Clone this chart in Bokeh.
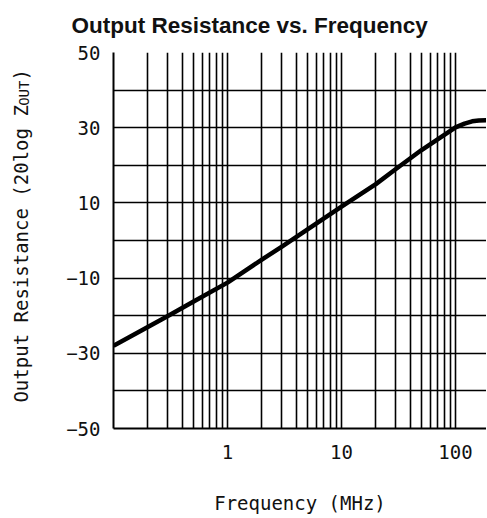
import math
from bokeh.plotting import figure
from bokeh.layouts import row
from bokeh.models import FixedTicker, Range1d, BasicTickFormatter
from bokeh.core.properties import value
from bokeh.embed import file_html
from bokeh.resources import INLINE

# data
freq_mhz = [0.1, 0.2, 0.3, 0.5, 1, 2, 3, 5, 10, 20, 30, 50, 100, 120, 140, 160, 200]
zout_db = [-28, -23, -20.1, -16.3, -11.2, -5.1, -1.6, 2.9, 9, 15.0, 19.0, 24.0, 30.1, 31.1, 31.7, 31.9, 32]

x_major = [1, 10, 100]
x_minor = [0.2, 0.3, 0.4, 0.5, 0.6, 0.7, 0.8, 0.9,
           2, 3, 4, 5, 6, 7, 8, 9,
           20, 30, 40, 50, 60, 70, 80, 90]
y_major = [-50, -30, -10, 10, 30, 50]
y_minor = [-40, -20, 0, 20, 40]

X_START, X_END = 0.1, 187
Y_START, Y_END = -50, 50
FRAME_W, FRAME_H = 373, 376
BORDER_TOP, BORDER_BOTTOM = 51, 88
LABEL_STRIP_W = 42
FIG_H = BORDER_TOP + FRAME_H + BORDER_BOTTOM
TICK_FONT = "DejaVu Sans Mono"
INK = "#111111"

p = figure(
    x_axis_type="log",
    x_range=Range1d(X_START, X_END),
    y_range=Range1d(Y_START, Y_END),
    frame_width=FRAME_W, frame_height=FRAME_H,
    min_border_left=113 - LABEL_STRIP_W, min_border_top=BORDER_TOP,
    min_border_right=0, min_border_bottom=BORDER_BOTTOM,
    output_backend="svg", toolbar_location=None,
)
p.background_fill_color = "white"
p.border_fill_color = "white"
p.outline_line_color = None

p.title.text = "Output Resistance vs. Frequency"
p.title.text_font = "Liberation Sans"
p.title.text_font_style = "bold"
p.title.text_font_size = "22.5px"
p.title.text_color = INK
p.title.align = "left"
p.title.vertical_align = "top"
p.title.offset = -42
p.title.standoff = 25

p.xaxis.ticker = FixedTicker(ticks=x_major, minor_ticks=x_minor)
p.xaxis.formatter = BasicTickFormatter()
p.yaxis.ticker = FixedTicker(ticks=y_major, minor_ticks=y_minor)

for ax in (p.xaxis[0], p.yaxis[0]):
    ax.axis_line_color = "black"
    ax.axis_line_width = 2
    ax.major_tick_line_color = None
    ax.minor_tick_line_color = None
    ax.major_label_text_font = TICK_FONT
    ax.major_label_text_font_size = "19px"
    ax.major_label_text_color = INK

p.xaxis.major_label_standoff = 10
p.yaxis.major_label_standoff = 7

p.xaxis.axis_label = "Frequency (MHz)"
p.xaxis.axis_label_text_font = TICK_FONT
p.xaxis.axis_label_text_font_style = "normal"
p.xaxis.axis_label_text_font_size = "19px"
p.xaxis.axis_label_text_color = INK
p.xaxis.axis_label_standoff = 30

for g in (p.xgrid[0], p.ygrid[0]):
    g.grid_line_color = "black"
    g.grid_line_width = 1.6
    g.grid_line_alpha = 1
    g.minor_grid_line_color = "black"
    g.minor_grid_line_width = 1.6

p.line(freq_mhz, zout_db, line_color="black", line_width=4.5, line_join="round")

# narrow strip on the left carrying the rotated y-axis title (with subscript "OUT").
# Its frame is aligned with the main plot's frame, so its ranges are pixels
# measured from the bottom-left corner of that frame.
s = figure(
    title=None,
    width=LABEL_STRIP_W, height=FIG_H,
    x_range=Range1d(0, LABEL_STRIP_W), y_range=Range1d(0, FRAME_H),
    min_border=0, min_border_left=0, min_border_right=0,
    min_border_top=BORDER_TOP, min_border_bottom=BORDER_BOTTOM,
    x_axis_location=None, y_axis_location=None,
    output_backend="svg", toolbar_location=None,
)
s.outline_line_color = None
s.grid.visible = False
s.background_fill_color = "white"
s.border_fill_color = "white"

txt_common = dict(angle=math.pi / 2, text_font=value(TICK_FONT), text_color=INK,
                  text_align="left", text_baseline="alphabetic")
s.text(x=[20], y=[25], text=["Output Resistance (20log Z"],
       text_font_size="19px", **txt_common)
s.text(x=[23], y=[322.5], text=["OUT"],
       text_font_size="14px", **txt_common)
s.text(x=[20], y=[348], text=[")"],
       text_font_size="19px", **txt_common)

layout = row(s, p, spacing=0)
open("out.html", "w").write(file_html(layout, INLINE))
